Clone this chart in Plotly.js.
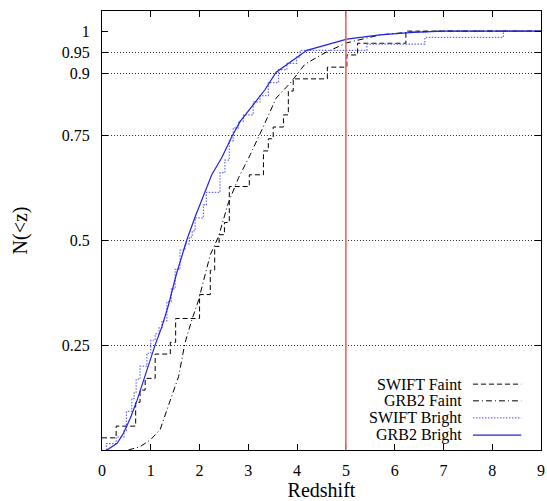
<!DOCTYPE html>
<html>
<head>
<meta charset="utf-8">
<script src="https://cdn.plot.ly/plotly-3.0.1.min.js"></script>
<style>html,body{margin:0;padding:0;background:#fff;}#chart{width:547px;height:501px;}</style>
</head>
<body>
<div id="chart"></div>
<script>
// ---- data ----
const seriesNames = ["SWIFT Faint", "GRB2 Faint", "SWIFT Bright", "GRB2 Bright"];

const swiftFaintX = [0, 0.29, 0.69, 0.78, 0.885, 1.09, 1.40, 1.51, 2.00, 2.22, 2.31, 2.40, 2.51, 2.61, 3.02, 3.31, 3.41, 3.51, 3.72, 3.82, 3.92, 4.62, 5.02, 5.24, 6.23, 9.0];
const swiftFaintY = [0.029, 0.057, 0.114, 0.143, 0.171, 0.229, 0.257, 0.314, 0.371, 0.429, 0.486, 0.514, 0.543, 0.629, 0.657, 0.714, 0.743, 0.771, 0.800, 0.857, 0.886, 0.914, 0.943, 0.971, 1.0, 1.0];

const grb2FaintX = [0.54, 0.78, 0.99, 1.19, 1.40, 1.57, 1.70, 1.84, 1.98, 2.22, 2.39, 2.59, 2.80, 3.04, 3.30, 3.57, 3.86, 4.16, 4.60, 5.02, 5.70, 6.25, 7.0, 9.0];
const grb2FaintY = [0, 0.008, 0.024, 0.048, 0.119, 0.175, 0.255, 0.31, 0.358, 0.466, 0.51, 0.59, 0.65, 0.705, 0.77, 0.84, 0.876, 0.921, 0.950, 0.972, 0.991, 0.997, 1.0, 1.0];

const swiftBrightX = [0.09, 0.09, 0.29, 0.45, 0.50, 0.61, 0.66, 0.70, 0.78, 0.92, 1.00, 1.09, 1.17, 1.23, 1.33, 1.42, 1.50, 1.60, 1.70, 1.79, 1.85, 1.91, 2.08, 2.14, 2.42, 2.52, 2.61, 2.69, 2.80, 2.90, 3.10, 3.24, 3.41, 3.62, 3.79, 3.99, 4.06, 5.43, 6.62, 8.23, 9.0];
const swiftBrightY = [0, 0.015, 0.031, 0.046, 0.092, 0.123, 0.138, 0.169, 0.200, 0.231, 0.262, 0.277, 0.292, 0.308, 0.354, 0.385, 0.431, 0.477, 0.492, 0.508, 0.523, 0.554, 0.585, 0.615, 0.662, 0.692, 0.738, 0.769, 0.785, 0.800, 0.831, 0.846, 0.877, 0.908, 0.923, 0.938, 0.954, 0.969, 0.985, 1.0, 1.0];

const grb2BrightX = [0.1, 0.31, 0.44, 0.58, 0.72, 0.85, 0.99, 1.09, 1.23, 1.36, 1.53, 1.74, 1.91, 2.08, 2.25, 2.46, 2.66, 2.83, 3.10, 3.34, 3.57, 4.20, 5.02, 5.70, 6.38, 7.0, 9.0];
const grb2BrightY = [0, 0.016, 0.04, 0.076, 0.119, 0.167, 0.215, 0.251, 0.295, 0.345, 0.422, 0.502, 0.557, 0.605, 0.657, 0.699, 0.748, 0.784, 0.824, 0.860, 0.902, 0.954, 0.981, 0.991, 0.997, 1.0, 1.0];

const redshiftCut = 5;
const xTickVals = [0, 1, 2, 3, 4, 5, 6, 7, 8, 9];
const yTickVals = [0.25, 0.5, 0.75, 0.9, 0.95, 1];
const yTickText = ["0.25", "0.5", "0.75", "0.9", "0.95", "1"];
const yGridVals = [0.25, 0.5, 0.75, 0.9, 0.95];

// ---- styles ----
const styles = [
  {color: "#000000", width: 1, dash: "5px,3px", shape: "hv"},
  {color: "#000000", width: 1, dash: "6px,3px,1px,3px", shape: "linear"},
  {color: "#6a6aff", width: 1.2, dash: "1.5px,1.5px", shape: "hv"},
  {color: "#2222e6", width: 1.2, dash: "solid", shape: "linear"}
];
const xs = [swiftFaintX, grb2FaintX, swiftBrightX, grb2BrightX];
const ys = [swiftFaintY, grb2FaintY, swiftBrightY, grb2BrightY];

const traces = seriesNames.map((n, i) => ({
  x: xs[i], y: ys[i], name: n, type: "scatter", mode: "lines",
  line: {color: styles[i].color, width: styles[i].width, dash: styles[i].dash, shape: styles[i].shape},
  showlegend: false, hoverinfo: "skip"
}));
traces.push({x: [null], y: [null], yaxis: "y2", mode: "lines", showlegend: false, hoverinfo: "skip"});

const FAM = "Liberation Serif, Times New Roman, DejaVu Serif, serif";

// custom gnuplot-style legend (text left, sample right)
const legRows = [0.150, 0.112, 0.073, 0.034];
const annotations = seriesNames.map((n, i) => ({
  xref: "paper", yref: "paper", x: 0.822, y: legRows[i], xanchor: "right", yanchor: "middle",
  text: n, showarrow: false, font: {family: FAM, color: "#000", size: 16}, borderpad: 0
}));
const shapes = seriesNames.map((n, i) => ({
  type: "line", xref: "paper", yref: "paper", x0: 0.845, x1: 0.955, y0: legRows[i], y1: legRows[i],
  line: {color: styles[i].color, width: styles[i].width, dash: styles[i].dash}
}));
shapes.push({type: "line", xref: "x", yref: "paper", x0: redshiftCut, x1: redshiftCut, y0: 0, y1: 1,
  line: {color: "rgba(238,100,100,1)", width: 1.6}, layer: "above"});

const layout = {
  width: 547, height: 501,
  margin: {l: 102, r: 6, t: 11, b: 51},
  paper_bgcolor: "#fff", plot_bgcolor: "#fff",
  font: {family: FAM, color: "#000", size: 16},
  xaxis: {
    range: [0, 9], tickvals: xTickVals, ticks: "inside", ticklen: 6, tickcolor: "#000",
    showline: true, linecolor: "#000", linewidth: 1, mirror: "ticks",
    showgrid: false, zeroline: false, ticklabelstandoff: 6,
    tickfont: {family: FAM, color: "#000", size: 16},
    title: {text: "Redshift", font: {family: FAM, color: "#000", size: 20}, standoff: 4}
  },
  yaxis: {
    range: [0, 1.048], tickvals: yTickVals, ticktext: yTickText, ticks: "inside", ticklen: 6, tickcolor: "#000",
    showline: true, linecolor: "#000", linewidth: 1, mirror: "ticks",
    showgrid: false, zeroline: false, ticklabelstandoff: 8,
    tickfont: {family: FAM, color: "#000", size: 16},
    title: {text: "N(<z)", font: {family: FAM, color: "#000", size: 20}, standoff: 28}
  },
  yaxis2: {
    overlaying: "y", range: [0, 1.048], tickvals: yGridVals, showticklabels: false, ticks: "",
    showgrid: true, gridcolor: "#333", gridwidth: 1, griddash: "1px,2px", zeroline: false, showline: false
  },
  annotations: annotations,
  shapes: shapes
};

Plotly.newPlot("chart", traces, layout, {staticPlot: true, displayModeBar: false});
</script>
</body>
</html>
